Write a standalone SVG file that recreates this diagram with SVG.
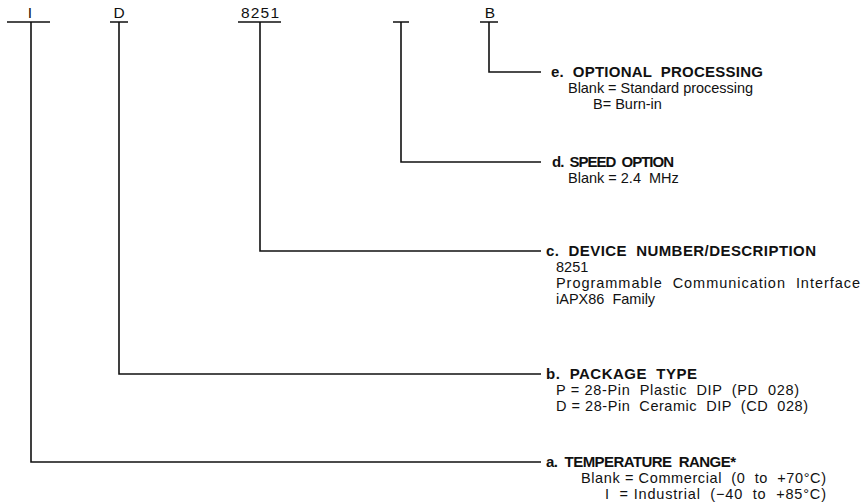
<svg xmlns="http://www.w3.org/2000/svg" width="864" height="504" viewBox="0 0 864 504">
<style>
.ln{stroke:#111;stroke-width:1.6;fill:none}
.t{font-family:"Liberation Sans",Arial,sans-serif;font-size:14.5px;fill:#111;white-space:pre}
.h{font-family:"Liberation Sans",Arial,sans-serif;font-size:15px;font-weight:bold;fill:#111;white-space:pre}
.c{text-anchor:middle}
</style>
<rect width="864" height="504" fill="#fff"/>
<g id="connectors">
<path class="ln" d="M7 22H50M31 22V462H541"/>
<path class="ln" d="M110 22H128M119 22V374H541"/>
<path class="ln" d="M238 22H281M260 22V251H541"/>
<path class="ln" d="M393 22H409M401 22V162H541"/>
<path class="ln" d="M480 22H498M489 22V72H541"/>
</g>
<g id="labels">
<text class="t c" x="30" y="18" style="font-size:15.5px">I</text>
<text class="t c" x="119" y="18" style="font-size:15.5px">D</text>
<text class="t c" x="260" y="18" style="font-size:15.5px" textLength="38" lengthAdjust="spacing">8251</text>
<text class="t c" x="490" y="18" style="font-size:15.5px">B</text>
</g>
<g id="node-e">
<text class="h" x="551" y="77" textLength="212" lengthAdjust="spacing" xml:space="preserve">e.  OPTIONAL  PROCESSING</text>
<text class="t" x="568" y="93" textLength="185" lengthAdjust="spacing" xml:space="preserve">Blank = Standard processing</text>
<text class="t" x="593" y="109" xml:space="preserve">B= Burn-in</text>
</g>
<g id="node-d">
<text class="h" x="552" y="167" textLength="122" lengthAdjust="spacing" xml:space="preserve">d.  SPEED  OPTION</text>
<text class="t" x="568" y="183" xml:space="preserve">Blank = 2.4  MHz</text>
</g>
<g id="node-c">
<text class="h" x="546" y="256" textLength="270" lengthAdjust="spacing" xml:space="preserve">c.  DEVICE  NUMBER/DESCRIPTION</text>
<text class="t" x="556" y="272">8251</text>
<text class="t" x="556" y="288" textLength="304" lengthAdjust="spacing" xml:space="preserve">Programmable  Communication  Interface</text>
<text class="t" x="556" y="304" xml:space="preserve">iAPX86  Family</text>
</g>
<g id="node-b">
<text class="h" x="546" y="379" textLength="151" lengthAdjust="spacing" xml:space="preserve">b.  PACKAGE  TYPE</text>
<text class="t" x="556" y="395" textLength="243" lengthAdjust="spacing" xml:space="preserve">P = 28-Pin  Plastic  DIP  (PD  028)</text>
<text class="t" x="556" y="411" textLength="252" lengthAdjust="spacing" xml:space="preserve">D = 28-Pin  Ceramic  DIP  (CD  028)</text>
</g>
<g id="node-a">
<text class="h" x="546" y="467" textLength="190" lengthAdjust="spacing" xml:space="preserve">a.  TEMPERATURE  RANGE*</text>
<text class="t" x="581" y="483" textLength="245" lengthAdjust="spacing" xml:space="preserve">Blank = Commercial  (0  to  +70°C)</text>
<text class="t" x="605" y="499" textLength="221" lengthAdjust="spacing" xml:space="preserve">I  = Industrial  (−40  to  +85°C)</text>
</g>
</svg>
